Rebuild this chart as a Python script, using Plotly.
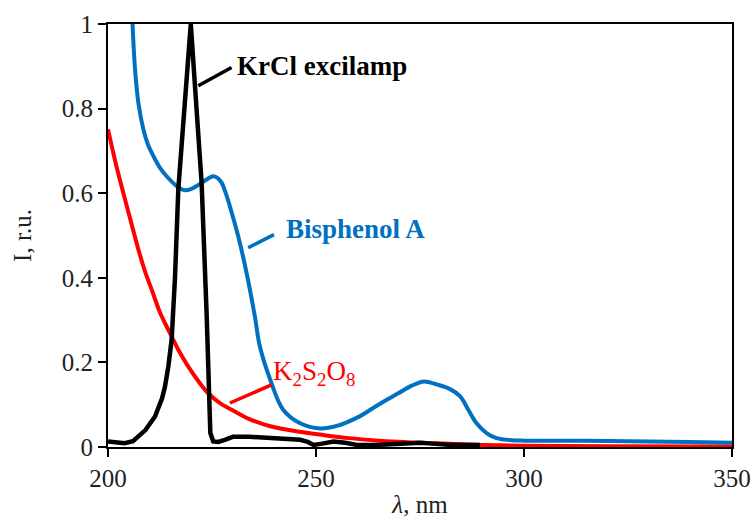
import plotly.graph_objects as go

# Bisphenol A absorption
bpa_x = [205.9, 206.5, 207.3, 208.5, 209.6, 210.9, 212.5, 214.1, 216.5, 218.5, 220, 221.3, 223.3, 225.3,
         226.3, 227.3, 228.3, 229.3, 231.3, 233.3, 235.3, 236.5, 239, 242.1, 246.2, 251, 255, 260, 265,
         270, 273, 276, 279, 282, 284.6, 286.5, 288.6, 291, 293.4, 297, 300, 310, 320, 330, 340, 350]
bpa_y = [1.0, 0.893, 0.814, 0.751, 0.715, 0.688, 0.66, 0.64, 0.617, 0.607, 0.61, 0.617, 0.63, 0.64,
         0.636, 0.625, 0.60, 0.569, 0.498, 0.412, 0.309, 0.238, 0.159, 0.088, 0.056, 0.044, 0.05, 0.07, 0.1,
         0.128, 0.145, 0.155, 0.148, 0.138, 0.12, 0.09, 0.056, 0.033, 0.021, 0.016, 0.015, 0.015, 0.014,
         0.013, 0.012, 0.010]

# K2S2O8 absorption
ks_x = [200, 202, 204.1, 206, 207.3, 209, 210.5, 212.5, 214.5, 217, 219.3, 222, 224.1, 227, 230.5,
        234, 239, 246, 252, 258, 265, 278, 290, 300, 320, 350]
ks_y = [0.751, 0.665, 0.585, 0.515, 0.467, 0.412, 0.372, 0.318, 0.277, 0.228, 0.19, 0.152, 0.127, 0.103, 0.084,
        0.066, 0.049, 0.036, 0.028, 0.021, 0.015, 0.009, 0.005, 0.003, 0.002, 0.001]

# KrCl excilamp emission
kr_x = [200, 202, 204, 206, 207.3, 209, 211.3, 213, 213.7, 214.5, 215.3, 215.7, 216.1, 216.9, 217.7,
        218.7, 219.9, 221, 222.5, 223.7, 224.2, 224.6, 225.3, 226.5, 228.1, 230, 234, 238.1, 242, 246.2,
        248, 249.4, 251.5, 254.2, 257, 259.8, 265, 270.2, 275, 278, 282.2, 286, 289.4]
kr_y = [0.013, 0.01, 0.009, 0.014, 0.024, 0.04, 0.072, 0.115, 0.143, 0.19, 0.254, 0.317, 0.40, 0.609, 0.713,
        0.85, 1.0, 0.84, 0.625, 0.317, 0.12, 0.033, 0.013, 0.012, 0.017, 0.024, 0.024, 0.021, 0.02, 0.017,
        0.012, 0.005, 0.008, 0.013, 0.01, 0.005, 0.005, 0.007, 0.01, 0.008, 0.005, 0.005, 0.005]

x_ticks = [200, 250, 300, 350]
y_ticks = [0, 0.2, 0.4, 0.6, 0.8, 1]
y_tick_text = ["0", "0.2", "0.4", "0.6", "0.8", "1"]

# labels: (text, text x, text y, leader start x, y, leader end x, y, color, bold)
labels = [
    ("KrCl excilamp", 230.5, 0.90, 221.7, 0.854, 229.7, 0.897, "black", True),
    ("Bisphenol A", 242.3, 0.515, 233.7, 0.471, 239.9, 0.502, "#0070C0", True),
    ("K<sub>2</sub>S<sub>2</sub>O<sub>8</sub>", 239.3, 0.175, 229.3, 0.104, 239.3, 0.147, "#FF0000", False),
]

FONT = "Liberation Serif"

fig = go.Figure()
fig.add_trace(go.Scatter(x=ks_x, y=ks_y, mode="lines", line=dict(color="#FF0000", width=4, shape="spline"),
                         showlegend=False))
fig.add_trace(go.Scatter(x=bpa_x, y=bpa_y, mode="lines", line=dict(color="#0070C0", width=4, shape="spline"),
                         showlegend=False))
fig.add_trace(go.Scatter(x=kr_x, y=kr_y, mode="lines", line=dict(color="black", width=4.5),
                         showlegend=False))

for text, tx, ty, x0, y0, x1, y1, col, bold in labels:
    fig.add_shape(type="line", x0=x0, y0=y0, x1=x1, y1=y1, xref="x", yref="y",
                  line=dict(color=col, width=3.5))
    fig.add_annotation(x=tx, y=ty, xref="x", yref="y", text=f"<b>{text}</b>" if bold else text,
                       showarrow=False, xanchor="left", yanchor="middle",
                       font=dict(family=FONT, size=27, color=col))

fig.update_layout(
    width=754, height=518,
    margin=dict(l=108, r=22, t=24, b=71, autoexpand=False),
    paper_bgcolor="white", plot_bgcolor="white",
    font=dict(family=FONT, size=25, color="#222"),
)
fig.update_xaxes(range=[200, 350], tickvals=x_ticks, ticks="outside", ticklen=8, tickwidth=2,
                 tickcolor="black", showline=True, linecolor="black", linewidth=2, mirror=True,
                 showgrid=False, zeroline=False, automargin=False,
                 title=dict(text="<i>λ</i>, nm", standoff=9, font=dict(size=25)),
                 tickfont=dict(size=25))
fig.update_yaxes(range=[0, 1], tickvals=y_ticks, ticktext=y_tick_text, ticks="outside", ticklen=8,
                 tickwidth=2, tickcolor="black", showline=True, linecolor="black", linewidth=2,
                 mirror=True, showgrid=False, zeroline=False, automargin=False,
                 title=dict(text="I, r.u.", standoff=23, font=dict(size=25)),
                 tickfont=dict(size=25))

fig.write_html("out.html")
